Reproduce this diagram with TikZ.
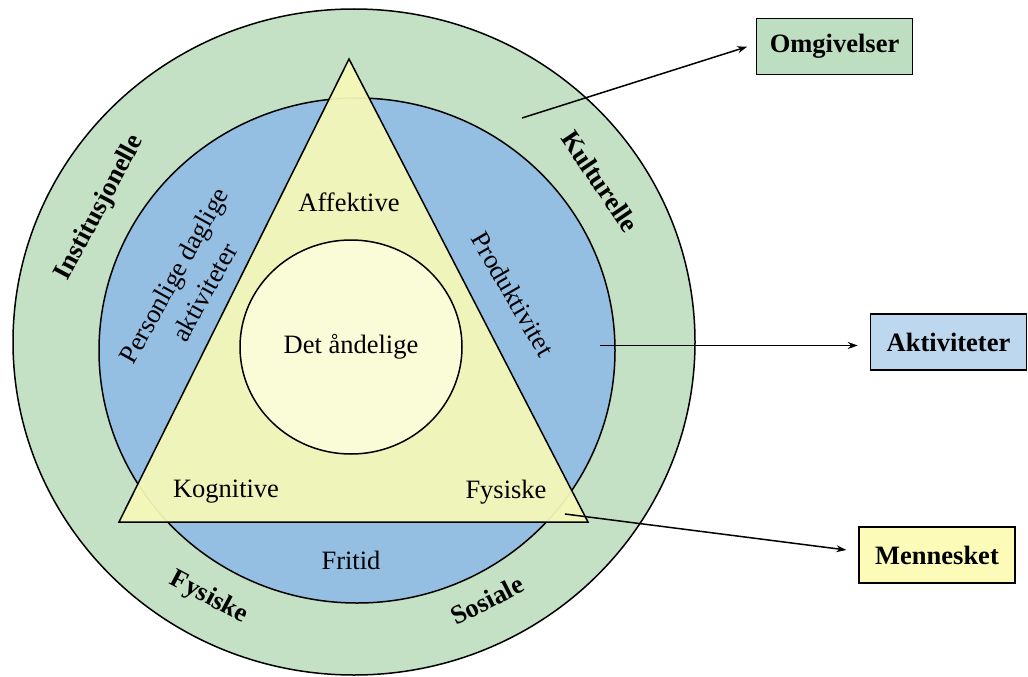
\documentclass[tikz,border=0pt]{standalone}
\usepackage{fontspec}
\setmainfont{Liberation Serif}
\usetikzlibrary{arrows.meta,shapes.geometric}
\definecolor{ringgreen}{HTML}{C4E1C5}
\definecolor{ringblue}{HTML}{95BEE3}
\definecolor{triyellow}{HTML}{F5F8B8}
\definecolor{coreyellow}{HTML}{FAFCD7}
\definecolor{boxgreen}{HTML}{BDDEC0}
\definecolor{boxblue}{HTML}{BDD7EE}
\definecolor{boxyellow}{HTML}{FCFCB8}
\begin{document}
\begin{tikzpicture}[x=1pt,y=-1pt,
  outline/.style={draw=black, line width=1.5pt},
  ring/.style={ellipse, outline, inner sep=0pt, outer sep=0pt},
  lbl/.style={font=\fontsize{26.5}{35}\selectfont, inner sep=0pt, align=center},
  blbl/.style={font=\fontsize{26.5}{35}\selectfont\bfseries, inner sep=0pt, align=center},
  legend/.style={draw=black, line width=1.5pt, minimum width=156pt, minimum height=56pt,
    inner sep=0pt, font=\fontsize{26.5}{30}\selectfont\bfseries},
  pointer/.style={draw=black, line width=1.5pt, -{Stealth[length=10pt,width=7pt]}}]
\useasboundingbox (0,0) rectangle (1028,677);

% rings
\node[ring, fill=ringgreen, minimum width=682pt, minimum height=666pt] (env) at (354,342) {};
\node[ring, fill=ringblue, minimum width=516pt, minimum height=505pt] (act) at (357,350.5) {};

% triangle
\coordinate (apex) at (349,59);
\coordinate (bl) at (119,522);
\coordinate (br) at (588,522);
\draw[outline, fill=triyellow, fill opacity=0.94] (apex) -- (bl) -- (br) -- cycle;

% core
\node[ring, fill=coreyellow, minimum width=222pt, minimum height=214pt,
  font=\fontsize{26.5}{30}\selectfont] (core) at (351,347) {Det åndelige};

% labels
\node[lbl] (affektive) at (349,202) {Affektive};
\node[lbl] (kognitive) at (226,492) {Kognitive};
\node[lbl] (fysiskem) at (506,492) {Fysiske};
\node[lbl] (fritid) at (351,560) {Fritid};
\node[lbl, rotate=61] (personlige) at (189,284) {Personlige daglige\\aktiviteter};
\node[lbl, rotate=-60] (produktivitet) at (513,294) {Produktivitet};

\node[blbl, rotate=62] (institusjonelle) at (100,208) {Institusjonelle};
\node[blbl, rotate=-56] (kulturelle) at (600,181) {Kulturelle};
\node[blbl, rotate=-28] (fysiskeo) at (209,598) {Fysiske};
\node[blbl, rotate=27] (sosiale) at (487,600) {Sosiale};

% legend boxes
\node[legend, fill=boxgreen] (omg) at (834.5,46.5) {Omgivelser};
\node[legend, fill=boxblue] (akt) at (948.5,342) {Aktiviteter};
\node[legend, fill=boxyellow] (men) at (937,555) {Mennesket};

% pointers
\coordinate (omstart) at (522,118);
\coordinate (akstart) at (600,345.5);
\coordinate (mestart) at (565,514);
\draw[pointer, shorten >=9pt] (omstart) -- ([yshift=2.5pt]omg.west);
\draw[pointer, shorten >=12pt] (akstart) -- ([yshift=-3.5pt]akt.west);
\draw[pointer, shorten >=12pt] (mestart) -- ([yshift=3.5pt]men.west);
\end{tikzpicture}
\end{document}
